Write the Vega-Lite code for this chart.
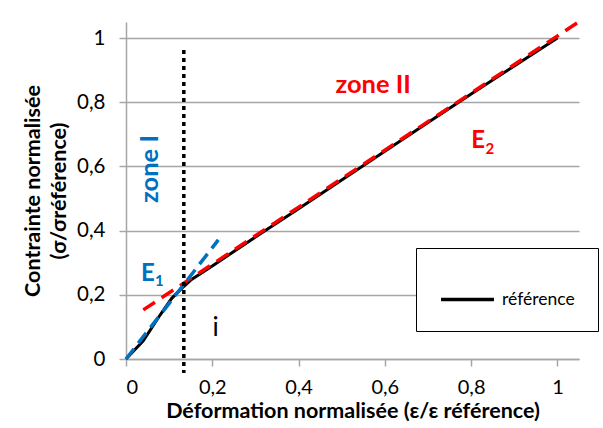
{
  "$schema": "https://vega.github.io/schema/vega-lite/v6.json",
  "width": 453,
  "height": 337,
  "autosize": {"type": "none"},
  "padding": {"left": 126, "top": 22, "right": 24, "bottom": 69},
  "background": "white",
  "config": {
    "font": "Lato",
    "view": {"stroke": null}
  },
  "datasets": {
    "ref": [
      {"x": 0, "y": 0}, {"x": 0.04, "y": 0.057}, {"x": 0.079, "y": 0.137},
      {"x": 0.106, "y": 0.189}, {"x": 0.133, "y": 0.225}, {"x": 0.152, "y": 0.248},
      {"x": 0.2, "y": 0.29}, {"x": 0.3, "y": 0.38}, {"x": 0.4, "y": 0.468},
      {"x": 0.5, "y": 0.558}, {"x": 0.6, "y": 0.647}, {"x": 0.7, "y": 0.737},
      {"x": 0.8, "y": 0.826}, {"x": 0.9, "y": 0.913}, {"x": 1, "y": 1}
    ],
    "e2": [{"x": 0.04, "y": 0.153}, {"x": 1.049, "y": 1.05}],
    "e1": [{"x": 0, "y": 0}, {"x": 0.214, "y": 0.371}],
    "marker": [{"x": 0.134, "y": 0.963, "y2": -0.044}],
    "annot": [
      {"x": 0.0557, "y": 0.592, "text": "zone I", "kind": "zone1"},
      {"x": 0.035, "y": 0.266, "text": "E", "kind": "E1"},
      {"x": 0.067, "y": 0.243, "text": "1", "kind": "sub1"},
      {"x": 0.573, "y": 0.854, "text": "zone II", "kind": "zone2"},
      {"x": 0.8, "y": 0.678, "text": "E", "kind": "E2"},
      {"x": 0.833, "y": 0.654, "text": "2", "kind": "sub2"},
      {"x": 0.208, "y": 0.097, "text": "i", "kind": "i"}
    ]
  },
  "encoding": {
    "x": {
      "field": "x", "type": "quantitative",
      "scale": {"domain": [0, 1.05], "nice": false, "zero": false},
      "axis": {
        "title": "Déformation normalisée (ε/ε référence)",
        "values": [0, 0.2, 0.4, 0.6, 0.8, 1],
        "format": "~g",
        "labelExpr": "replace(datum.label, '.', ',')",
        "grid": false,
        "domainColor": "#a6a6a6", "domainWidth": 1.5,
        "tickColor": "#a6a6a6", "tickWidth": 1.5, "tickSize": 7,
        "labelFontSize": 20, "labelColor": "black", "labelPadding": 11,
        "titleFontSize": 21.5, "titleFontWeight": "bold", "titleColor": "black", "titlePadding": 3
      }
    },
    "y": {
      "field": "y", "type": "quantitative",
      "scale": {"domain": [0, 1.05], "nice": false, "zero": false},
      "axis": {
        "title": ["Contrainte normalisée", "(σ/σréférence)"],
        "values": [0, 0.2, 0.4, 0.6, 0.8, 1],
        "format": "~g",
        "labelExpr": "replace(datum.label, '.', ',')",
        "grid": true, "gridColor": "#a6a6a6", "gridWidth": 1.5,
        "domainColor": "#a6a6a6", "domainWidth": 1.5,
        "tickColor": "#a6a6a6", "tickWidth": 1.5, "tickSize": 7,
        "labelFontSize": 20.5, "labelColor": "black", "labelPadding": 14,
        "titleFontSize": 21.5, "titleFontWeight": "bold", "titleColor": "black",
        "titlePadding": 6, "titleLineHeight": 26
      }
    }
  },
  "layer": [
    {
      "data": {"name": "ref"},
      "mark": {"type": "line", "strokeWidth": 3},
      "encoding": {
        "color": {
          "datum": "référence",
          "scale": {"domain": ["référence"], "range": ["black"]},
          "legend": {
            "orient": "none", "legendX": 290, "legendY": 226,
            "title": null,
            "strokeColor": "black", "fillColor": "white", "padding": 23,
            "symbolType": "stroke", "symbolSize": 2800, "symbolStrokeWidth": 3.5,
            "labelFontSize": 17.5, "labelColor": "black", "labelOffset": 6
          }
        }
      }
    },
    {
      "data": {"name": "e2"},
      "mark": {"type": "line", "color": "#ff0000", "strokeWidth": 3.5, "strokeDash": [14, 8]}
    },
    {
      "data": {"name": "e1"},
      "mark": {"type": "line", "color": "#0070c0", "strokeWidth": 3.5, "strokeDash": [13, 7]}
    },
    {
      "data": {"name": "marker"},
      "mark": {"type": "rule", "color": "black", "strokeWidth": 3.5, "strokeDash": [4, 4], "clip": false},
      "encoding": {"y2": {"field": "y2"}}
    },
    {
      "data": {"name": "annot"},
      "transform": [{"filter": "datum.kind === 'zone1'"}],
      "mark": {"type": "text", "color": "#0070c0", "fontWeight": "bold", "fontSize": 25.5, "angle": 270, "align": "center", "baseline": "middle"},
      "encoding": {"text": {"field": "text"}}
    },
    {
      "data": {"name": "annot"},
      "transform": [{"filter": "datum.kind === 'E1'"}],
      "mark": {"type": "text", "color": "#0070c0", "fontWeight": "bold", "fontSize": 24, "align": "left", "baseline": "middle"},
      "encoding": {"text": {"field": "text"}}
    },
    {
      "data": {"name": "annot"},
      "transform": [{"filter": "datum.kind === 'sub1'"}],
      "mark": {"type": "text", "color": "#0070c0", "fontWeight": "bold", "fontSize": 15, "align": "left", "baseline": "middle"},
      "encoding": {"text": {"field": "text"}}
    },
    {
      "data": {"name": "annot"},
      "transform": [{"filter": "datum.kind === 'zone2'"}],
      "mark": {"type": "text", "color": "#ff0000", "fontWeight": "bold", "fontSize": 25.5, "align": "center", "baseline": "middle"},
      "encoding": {"text": {"field": "text"}}
    },
    {
      "data": {"name": "annot"},
      "transform": [{"filter": "datum.kind === 'E2'"}],
      "mark": {"type": "text", "color": "#ff0000", "fontWeight": "bold", "fontSize": 24, "align": "left", "baseline": "middle"},
      "encoding": {"text": {"field": "text"}}
    },
    {
      "data": {"name": "annot"},
      "transform": [{"filter": "datum.kind === 'sub2'"}],
      "mark": {"type": "text", "color": "#ff0000", "fontWeight": "bold", "fontSize": 15, "align": "left", "baseline": "middle"},
      "encoding": {"text": {"field": "text"}}
    },
    {
      "data": {"name": "annot"},
      "transform": [{"filter": "datum.kind === 'i'"}],
      "mark": {"type": "text", "color": "black", "fontSize": 26, "align": "center", "baseline": "middle"},
      "encoding": {"text": {"field": "text"}}
    }
  ]
}
